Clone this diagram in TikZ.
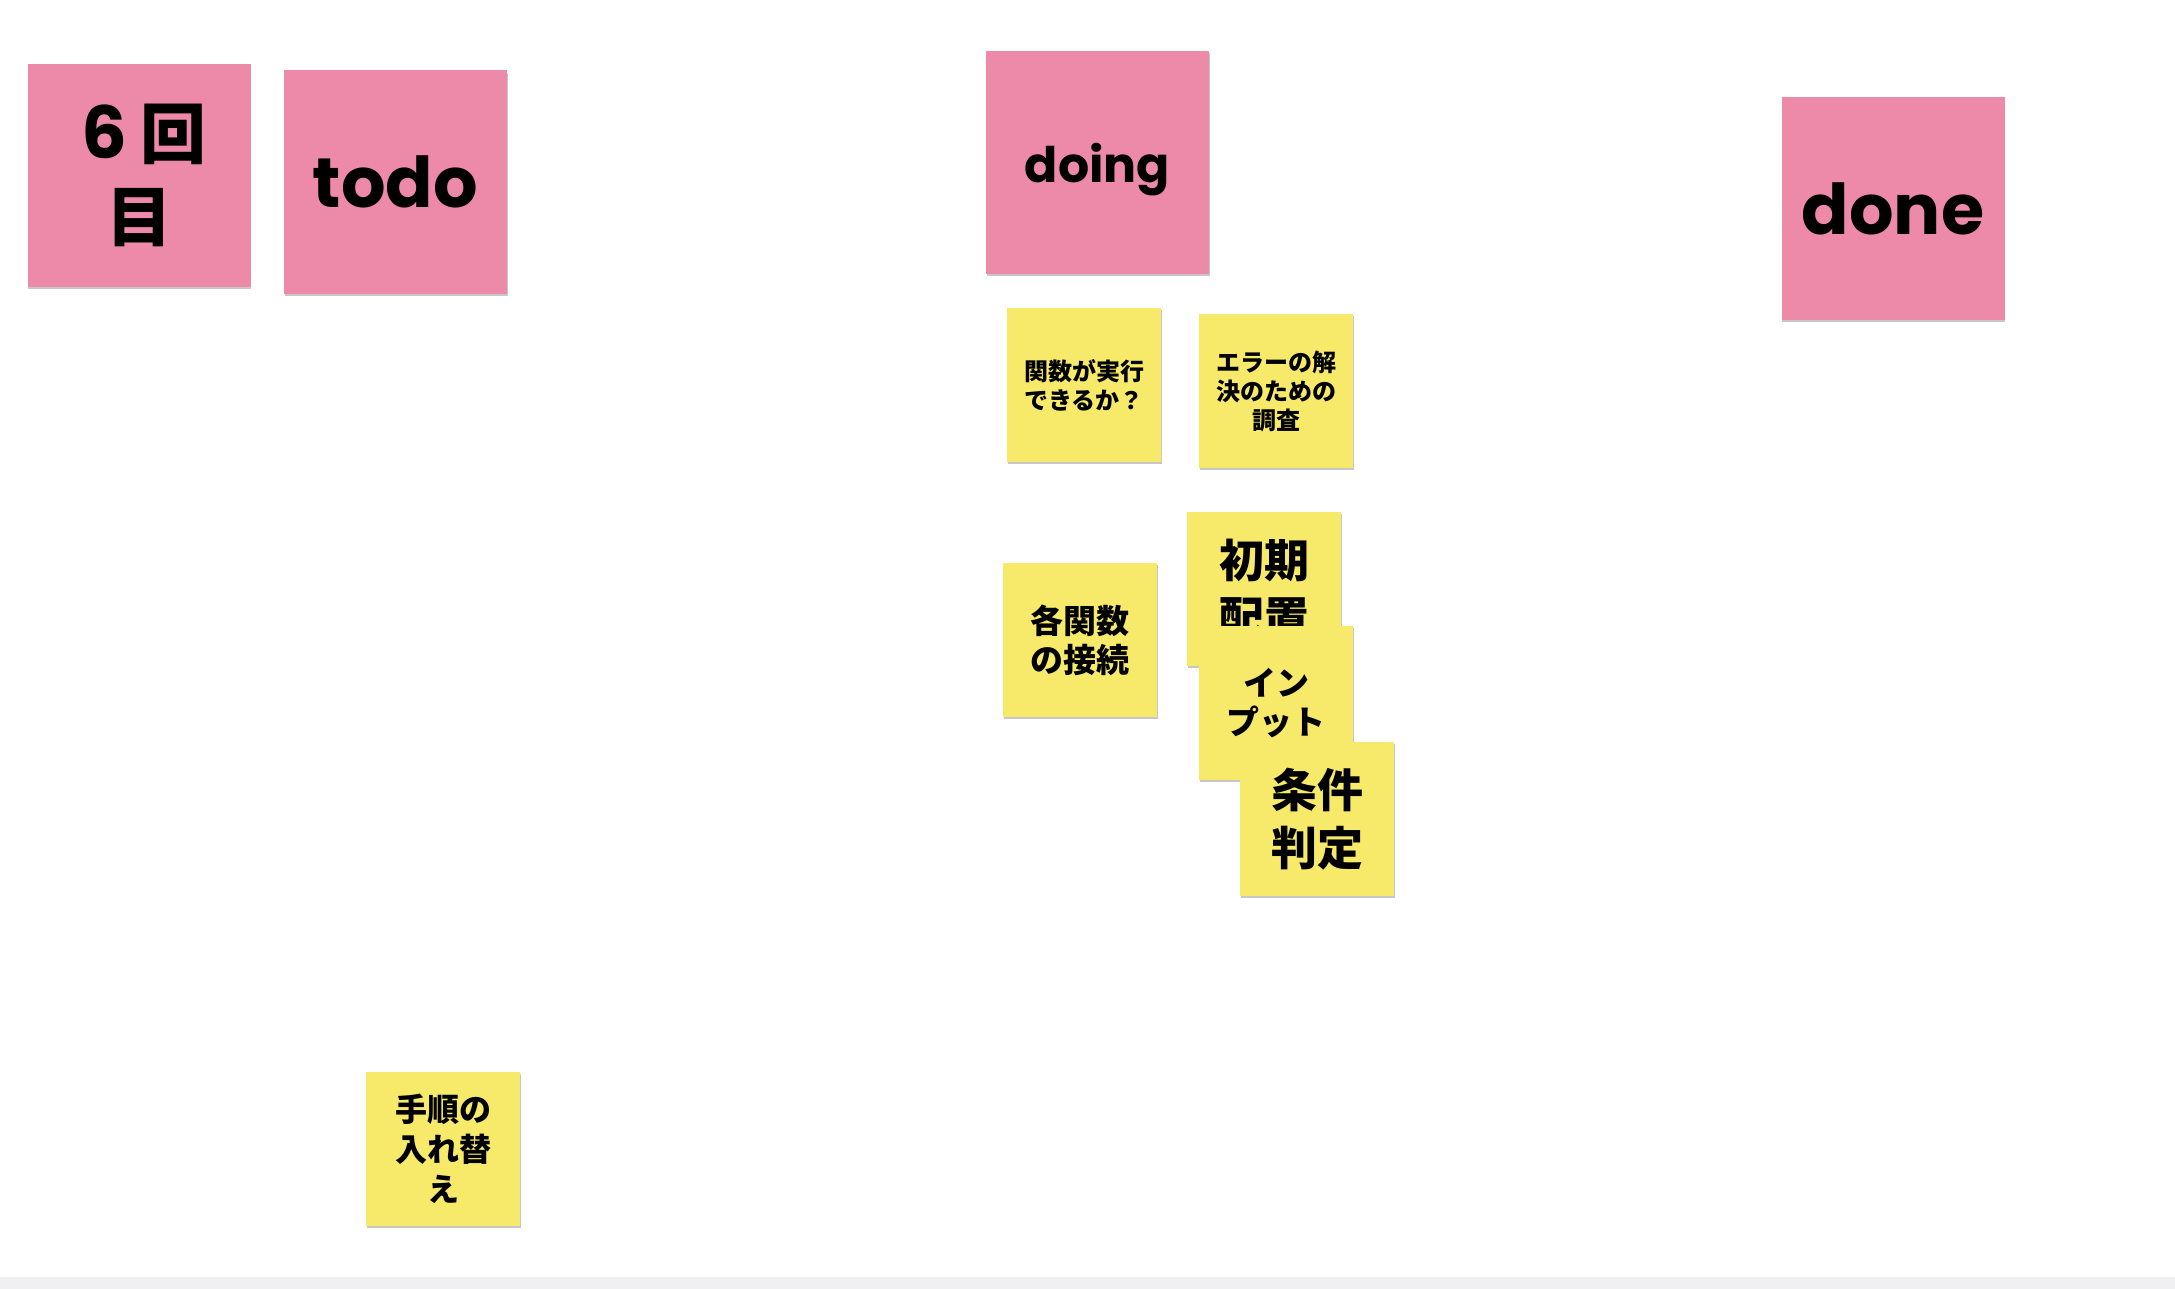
\documentclass[tikz,border=0pt]{standalone}
\usepackage{fontspec}
\usetikzlibrary{shadows}
\newfontfamily\latb{Poppins}
\newfontfamily\jp{Noto Sans CJK JP}
\definecolor{pinkcol}{HTML}{EE8AA9}
\definecolor{yelcol}{HTML}{F7EA6A}
\definecolor{barcol}{HTML}{F0F0F2}
\tikzset{
  note/.style={rectangle, inner sep=0pt, align=center, text=black,
    drop shadow={shadow xshift=0.6pt, shadow yshift=-2.2pt, opacity=0.22, fill=black}},
  pinknote/.style={note, fill=pinkcol, minimum width=223pt, minimum height=223pt},
  yellownote/.style={note, fill=yelcol, minimum width=154pt, minimum height=154pt},
}
\begin{document}
\begin{tikzpicture}[x=1pt,y=-1pt]
\useasboundingbox (0,0) rectangle (2175,1289);
\fill[barcol] (0,1277) rectangle (2175,1289);

\node[pinknote, font=\jp\bfseries\fontsize{66}{83}\selectfont] (six) at (139,175.5)
  {\hspace*{10pt}{\latb\bfseries\fontsize{72}{83}\selectfont 6}\hspace{14pt}回\\目};
\node[pinknote, font=\latb\bfseries\fontsize{70}{84}\selectfont] (todo) at (395.5,182) {todo};
\node[pinknote, font=\latb\bfseries\fontsize{49}{60}\selectfont, text depth=0pt] (doing) at (1097.5,162.5) {doing};
\node[pinknote, font=\latb\bfseries\fontsize{70}{84}\selectfont] (done) at (1893,208.5) {done};

\node[yellownote, font=\jp\bfseries\fontsize{24}{29}\selectfont] (kansu) at (1084,385) {関数が実行\\できるか？};
\node[yellownote, font=\jp\bfseries\fontsize{24}{29}\selectfont] (error) at (1276,391) {エラーの解\\決のための\\調査};
\node[yellownote, font=\jp\bfseries\fontsize{33}{39}\selectfont] (kaku) at (1080,640) {各関数\\の接続};
\node[yellownote, font=\jp\bfseries\fontsize{45}{57}\selectfont] (shoki) at (1264,589) {初期\\配置};
\node[yellownote, font=\jp\bfseries\fontsize{33}{39}\selectfont] (input) at (1276,703) {イン\\プット};
\node[yellownote, font=\jp\bfseries\fontsize{46}{58}\selectfont] (joken) at (1317,819) {条件\\判定};
\node[yellownote, font=\jp\bfseries\fontsize{32}{40}\selectfont] (tejun) at (443,1149) {手順の\\入れ替\\え};
\end{tikzpicture}
\end{document}
